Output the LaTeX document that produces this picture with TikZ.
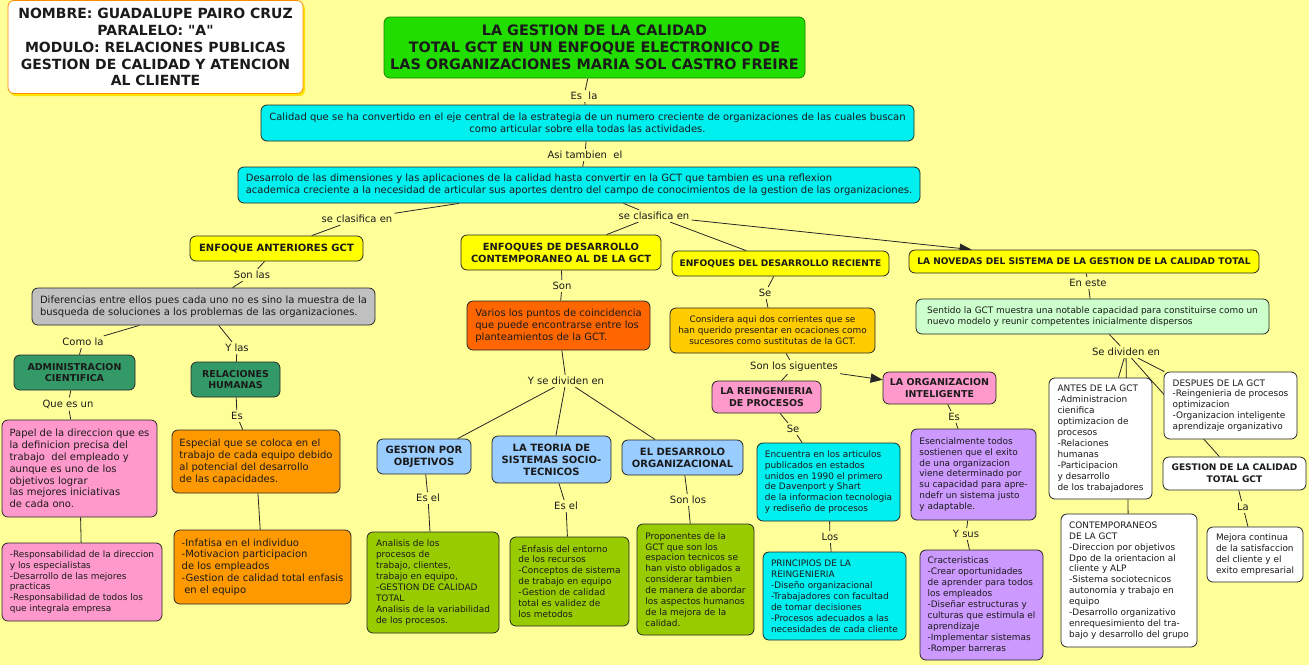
\documentclass[tikz,border=0pt]{standalone}
\usepackage{fontspec}
\setmainfont{DejaVu Sans}
\usetikzlibrary{arrows.meta,shadows}
\newcommand\fz[2]{\fontsize{#1}{#2}\selectfont}
\newcommand\sq{\XeTeXglyph\XeTeXcharglyph"22\relax}
\definecolor{bgc}{HTML}{FFFF99}
\definecolor{yel}{HTML}{FFFF00}
\definecolor{cyanc}{HTML}{00F0F0}
\definecolor{grayc}{HTML}{C0C0C0}
\definecolor{tealc}{HTML}{339966}
\definecolor{pinkc}{HTML}{FF99CC}
\definecolor{orangec}{HTML}{FF9900}
\definecolor{redor}{HTML}{FF6600}
\definecolor{bluec}{HTML}{99CCFF}
\definecolor{oliv}{HTML}{99CC00}
\definecolor{gold}{HTML}{FFCC00}
\definecolor{purp}{HTML}{CC99FF}
\definecolor{lgreen}{HTML}{CCFFCC}
\definecolor{titleg}{HTML}{22DD00}
\definecolor{txt}{HTML}{1A1A1A}
\pgfdeclarelayer{bg}
\pgfsetlayers{bg,main}
\begin{document}
\begin{tikzpicture}[x=0.75pt,y=-0.75pt,
  box/.style={draw=black!85, line width=0.6pt, rounded corners=4.5pt, inner sep=0pt, text=txt, font=\fz{7.5}{8.9}},
  sz/.style 2 args={minimum width=#1*0.75pt, minimum height=#2*0.75pt},
  sm/.style={font=\fz{6.7}{8.2}},
  bld/.style={font=\fz{#1}{8.9}\bfseries, align=center},
  lab/.style={font=\fz{7.5}{9}, inner sep=1.5pt, text=txt},
  ln/.style={line width=0.6pt, draw=black!85},
  arr/.style={ln, -{Triangle[length=9pt,width=7pt]}}
]
\useasboundingbox (0,0) rectangle (1309,665);

% ---- boxes ----
\node[box, sz={295}{93}, fill=white, draw=orange!90!yellow, font=\fz{10.5}{12.7}\bfseries, align=center,
      drop shadow={shadow xshift=1.5pt, shadow yshift=-2pt, fill=yellow!85!orange, opacity=1}] (name) at (155.5,47)
  {NOMBRE: GUADALUPE PAIRO CRUZ\\PARALELO: \sq A\sq\\MODULO: RELACIONES PUBLICAS\\GESTION DE CALIDAD Y ATENCION\\AL CLIENTE};
\node[box, sz={421}{61}, fill=titleg, draw=titleg!60!black, font=\fz{10.8}{12.75}\bfseries, align=center] (title) at (594.5,47.5)
  {LA GESTION DE LA CALIDAD\\TOTAL GCT EN UN ENFOQUE ELECTRONICO DE\\LAS ORGANIZACIONES MARIA SOL CASTRO FREIRE};
\node[box, sz={653}{36}, fill=cyanc, align=center] (cal) at (587.5,123)
  {Calidad que se ha convertido en el eje central de la estrategia de un numero creciente de organizaciones de las cuales buscan\\como articular sobre ella todas las actividades.};
\node[box, sz={682}{36}, fill=cyanc, align=left] (des) at (579,185)
  {Desarrolo de las dimensiones y las aplicaciones de la calidad hasta convertir en la GCT que tambien es una reflexion\\academica creciente a la necesidad de articular sus aportes dentro del campo de conocimientos de la gestion de las organizaciones.};

\node[box, sz={173}{25}, fill=yel, bld=7.5] (ant) at (276.5,248.5) {ENFOQUE ANTERIORES GCT};
\node[box, sz={343}{37}, fill=grayc, align=left] (dif) at (203.5,306.5)
  {Diferencias entre ellos pues cada uno no es sino la muestra de la\\busqueda de soluciones a los problemas de las organizaciones.};
\node[box, sz={121}{35}, fill=tealc, bld=7.1] (adm) at (74.5,372.5) {ADMINISTRACION\\CIENTIFICA};
\node[box, sz={89}{35}, fill=tealc, bld=7.1] (rel) at (235.5,379.5) {RELACIONES\\HUMANAS};
\node[box, sz={155}{97}, fill=pinkc, align=left] (pap) at (79.5,468.5)
  {Papel de la direccion que es\\la definicion precisa del\\trabajo~~del empleado y\\aunque es uno de los\\objetivos lograr\\las mejores iniciativas\\de cada ono.};
\node[box, sz={160}{78}, fill=pinkc, align=left, sm] (resp) at (82,582)
  {-Responsabilidad de la direccion\\y los especialistas\\-Desarrollo de las mejores\\practicas\\-Responsabilidad de todos los\\que integrala empresa};
\node[box, sz={168}{63}, fill=orangec, align=left] (esp) at (256,461.5)
  {Especial que se coloca en el\\trabajo de cada equipo debido\\al potencial del desarrollo\\de las capacidades.};
\node[box, sz={177}{74}, fill=orangec, align=left] (inf) at (262.5,567)
  {-Infatisa en el individuo\\-Motivacion participacion\\de los empleados\\-Gestion de calidad total enfasis\\\hspace{2pt}en el equipo};

\node[box, sz={200}{35}, fill=yel, bld=7.4] (ctp) at (561,252.5) {ENFOQUES DE DESARROLLO\\CONTEMPORANEO AL DE LA GCT};
\node[box, sz={183}{49}, fill=redor, align=left] (var) at (558.5,325.5)
  {Varios los puntos de coincidencia\\que puede encontrarse entre los\\planteamientos de la GCT.};
\node[box, sz={94}{35}, fill=bluec, bld=7.5] (gpo) at (424,456.5) {GESTION POR\\OBJETIVOS};
\node[box, sz={119}{47}, fill=bluec, bld=7.5] (teo) at (551.5,459.5) {LA TEORIA DE\\SISTEMAS SOCIO-\\TECNICOS};
\node[box, sz={121}{35}, fill=bluec, bld=7.5] (dor) at (682.5,457.5) {EL DESARROLO\\ORGANIZACIONAL};
\node[box, sz={132}{101}, fill=oliv, align=left, sm] (ana) at (433,582.5)
  {Analisis de los\\procesos de\\trabajo, clientes,\\trabajo en equipo,\\-GESTION DE CALIDAD\\TOTAL\\Analisis de la variabilidad\\de los procesos.};
\node[box, sz={119}{89}, fill=oliv, align=left, sm] (enf) at (569.5,581.5)
  {-Enfasis del entorno\\de los recursos\\-Conceptos de sistema\\de trabajo en equipo\\-Gestion de calidad\\total es validez de\\los metodos};
\node[box, sz={117}{111}, fill=oliv, align=left, sm] (pro) at (695.5,579.5)
  {Proponentes de la\\GCT que son los\\espacion tecnicos se\\han visto obligados a\\considerar tambien\\de manera de abordar\\los aspectos humanos\\de la mejora de la\\calidad.};

\node[box, sz={217}{25}, fill=yel, bld=6.8] (rec) at (780.5,263.5) {ENFOQUES DEL DESARROLLO RECIENTE};
\node[box, sz={205}{45}, fill=gold, align=center, sm] (cons) at (772.5,330.5)
  {Considera aqui dos corrientes que se\\han querido presentar en ocaciones como\\sucesores como sustitutas de la GCT.};
\node[box, sz={109}{32}, fill=pinkc, bld=7.1] (rei) at (766.5,397) {LA REINGENIERIA\\DE PROCESOS};
\node[box, sz={113}{32}, fill=pinkc, bld=7.1] (org) at (939.5,388) {LA ORGANIZACION\\INTELIGENTE};
\node[box, sz={143}{78}, fill=cyanc, align=left, sm] (enc) at (828.5,482)
  {Encuentra en los articulos\\publicados en estados\\unidos en 1990 el primero\\de Davenport y Shart\\de la informacion tecnologia\\y rediseño de procesos};
\node[box, sz={143}{88}, fill=cyanc, align=left, sm] (pri) at (834.5,596)
  {PRINCIPIOS DE LA\\REINGENIERIA\\-Diseño organizacional\\-Trabajadores con facultad\\de tomar decisiones\\-Procesos adecuados a las\\necesidades de cada cliente};
\node[box, sz={125}{91}, fill=purp, align=left, sm] (ese) at (973.5,474.5)
  {Esencialmente todos\\sostienen que el exito\\de una organizacion\\viene determinado por\\su capacidad para apre-\\ndefr un sistema justo\\y adaptable.};
\node[box, sz={123}{110}, fill=purp, align=left, sm] (car) at (981.5,605)
  {Cracteristicas\\-Crear oportunidades\\de aprender para todos\\los empleados\\-Diseñar estructuras y\\culturas que estimula el\\aprendizaje\\-Implementar sistemas\\-Romper barreras};

\node[box, sz={350}{23}, fill=yel, bld=6.8] (nov) at (1084,261.5) {LA NOVEDAS DEL SISTEMA DE LA GESTION DE LA CALIDAD TOTAL};
\node[box, sz={353}{35}, fill=lgreen, align=left, sm] (sen) at (1092.5,316.5)
  {Sentido la GCT muestra una notable capacidad para constituirse como un\\nuevo modelo y reunir competentes inicialmente dispersos};
\node[box, sz={103}{121}, fill=white, align=left, sm] (antes) at (1100.5,438.5)
  {ANTES DE LA GCT\\-Administracion\\cienifica\\optimizacion de\\procesos\\-Relaciones\\humanas\\-Participacion\\y desarrollo\\de los trabajadores};
\node[box, sz={133}{67}, fill=white, align=left, sm] (desp) at (1230.5,405.5)
  {DESPUES DE LA GCT\\-Reingenieria de procesos\\optimizacion\\-Organizacion inteligente\\aprendizaje organizativo};
\node[box, sz={143}{33}, fill=white, bld=6.8] (gct) at (1234.5,473.5) {GESTION DE LA CALIDAD\\TOTAL GCT};
\node[box, sz={136}{133}, fill=white, align=left, sm] (cont) at (1129,580.5)
  {CONTEMPORANEOS\\DE LA GCT\\-Direccion por objetivos\\Dpo de la orientacion al\\cliente y ALP\\-Sistema sociotecnicos\\autonomia y trabajo en\\equipo\\-Desarrollo organizativo\\enrequesimiento del tra-\\bajo y desarrollo del grupo};
\node[box, sz={96}{55}, fill=white, align=left, sm] (mej) at (1255,554.5)
  {Mejora continua\\de la satisfaccion\\del cliente y el\\exito empresarial};

% ---- linking phrases ----
\node[lab] (l1) at (584,96) {Es~~la};
\node[lab] (l2) at (585,155) {Asi tambien~~el};
\node[lab] (l3) at (357,219) {se clasifica en};
\node[lab] (l4) at (654,216) {se clasifica en};
\node[lab] (l5) at (252,275) {Son las};
\node[lab] (l6) at (83,342) {Como la};
\node[lab] (l7) at (237,348) {Y las};
\node[lab] (l8) at (68,404) {Que es un};
\node[lab] (l9) at (237,416) {Es};
\node[lab] (l10) at (562,286) {Son};
\node[lab] (l11) at (566,381) {Y se dividen en};
\node[lab] (l12) at (428,498) {Es el};
\node[lab] (l13) at (566,506) {Es el};
\node[lab] (l14) at (688,500) {Son los};
\node[lab] (l15) at (765,293) {Se};
\node[lab] (l16) at (794,367) {Son los siguentes};
\node[lab] (l17) at (793,429) {Se};
\node[lab] (l18) at (830,537) {Los};
\node[lab] (l19) at (954,417) {Es};
\node[lab] (l20) at (966,534) {Y sus};
\node[lab] (l21) at (1088,283) {En este};
\node[lab] (l22) at (1126,352) {Se dividen en};
\node[lab] (l23) at (1243,507) {La};

% ---- connectors ----
\begin{pgfonlayer}{bg}
\fill[bgc] (0,0) rectangle (1309,665);
\draw[ln] (title) -- (l1); \draw[ln] (l1) -- (cal);
\draw[ln] (cal) -- (l2); \draw[ln] (l2) -- (des);
\draw[ln] (des) -- (l3); \draw[ln] (l3) -- (ant);
\draw[ln] (des) -- (l4); \draw[ln] (l4) -- (ctp); \draw[ln] (l4) -- (rec); \draw[arr] (l4) -- (nov);
\draw[ln] (ant) -- (l5); \draw[ln] (l5) -- (dif);
\draw[ln] (dif) -- (l6); \draw[ln] (l6) -- (adm);
\draw[ln] (dif) -- (l7); \draw[ln] (l7) -- (rel);
\draw[ln] (adm) -- (l8); \draw[ln] (l8) -- (pap);
\draw[ln] (rel) -- (l9); \draw[ln] (l9) -- (esp);
\draw[ln] (pap) -- (resp);
\draw[ln] (esp) -- (inf);
\draw[ln] (ctp) -- (l10); \draw[ln] (l10) -- (var);
\draw[ln] (var) -- (l11); \draw[ln] (l11) -- (gpo); \draw[ln] (l11) -- (teo); \draw[ln] (l11) -- (dor);
\draw[ln] (gpo) -- (l12); \draw[ln] (l12) -- (ana);
\draw[ln] (teo) -- (l13); \draw[ln] (l13) -- (enf);
\draw[ln] (dor) -- (l14); \draw[ln] (l14) -- (pro);
\draw[ln] (rec) -- (l15); \draw[ln] (l15) -- (cons);
\draw[ln] (cons) -- (l16); \draw[ln] (l16) -- (rei); \draw[arr] (l16) -- (org);
\draw[ln] (rei) -- (l17); \draw[ln] (l17) -- (enc);
\draw[ln] (enc) -- (l18); \draw[ln] (l18) -- (pri);
\draw[ln] (org) -- (l19); \draw[ln] (l19) -- (ese);
\draw[ln] (ese) -- (l20); \draw[ln] (l20) -- (car);
\draw[ln] (nov) -- (l21); \draw[ln] (l21) -- (sen);
\draw[ln] (sen) -- (l22); \draw[ln] (l22) -- (antes); \draw[ln] (l22) -- (cont); \draw[ln] (l22) -- (desp); \draw[ln] (l22) -- (gct);
\draw[ln] (gct) -- (l23); \draw[ln] (l23) -- (mej);
\end{pgfonlayer}
\end{tikzpicture}
\end{document}
